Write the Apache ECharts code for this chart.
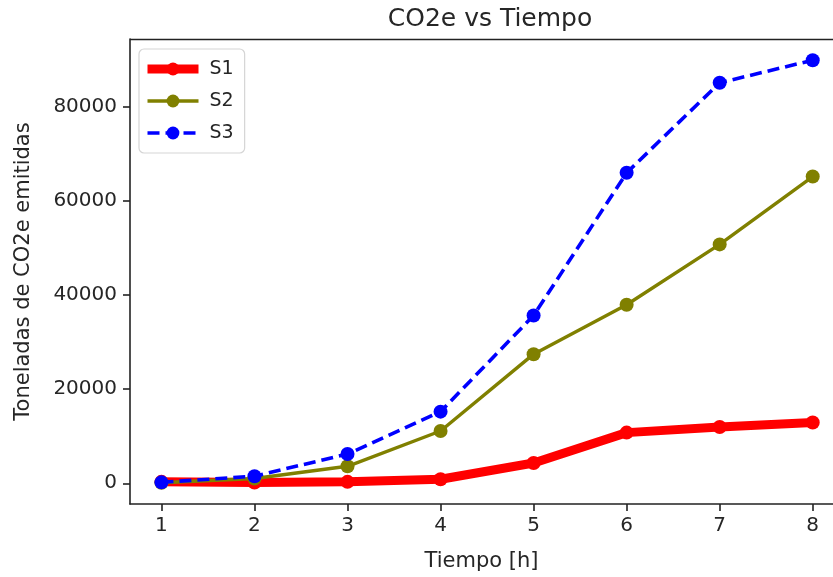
<!DOCTYPE html>
<html>
<head>
<meta charset="utf-8">
<script src="https://cdn.jsdelivr.net/npm/echarts@6/dist/echarts.min.js"></script>
<style>
html,body{margin:0;padding:0;background:#fff;}
#c{width:833px;height:577px;}
</style>
</head>
<body>
<div id="c"></div>
<script>
const hours = [1, 2, 3, 4, 5, 6, 7, 8];
const s1 = [300, 150, 300, 850, 4300, 10750, 11950, 12900];
const s2 = [100, 1000, 3600, 11100, 27400, 37900, 50700, 65100];
const s3 = [200, 1500, 6200, 15200, 35600, 65900, 85000, 89800];
const yTicks = [0, 20000, 40000, 60000, 80000];
const xTicks = [1, 2, 3, 4, 5, 6, 7, 8];

const font = 'DejaVu Sans';
const ink = '#262626';
const chart = echarts.init(document.getElementById('c'), null, {renderer: 'canvas'});

function pairs(vals) { return hours.map((h, i) => [h, vals[i]]); }

chart.setOption({
  animation: false,
  backgroundColor: '#fff',
  textStyle: {fontFamily: font},
  title: {
    text: 'CO2e vs Tiempo',
    left: 485, top: 2, textAlign: 'center',
    textStyle: {fontFamily: font, fontSize: 25, fontWeight: 'normal', color: ink}
  },
  grid: {left: 130, right: 0, top: 39, bottom: 73, containLabel: false},
  legend: {
    orient: 'vertical',
    left: 139, top: 49,
    padding: [10, 11, 10, 4],
    itemWidth: 51, itemHeight: 16,
    itemGap: 12,
    borderColor: '#d5d5d5', borderWidth: 1.2, borderRadius: 5,
    backgroundColor: 'rgba(255,255,255,0.8)',
    textStyle: {fontFamily: font, fontSize: 19, lineHeight: 20, color: ink, padding: [0, 0, 0, 6]},
    data: [
      {name: 'S1', lineStyle: {width: 9}},
      {name: 'S2', lineStyle: {width: 3.4}},
      {name: 'S3', lineStyle: {width: 3.6}}
    ]
  },
  xAxis: {
    type: 'value',
    min: 0.662, max: 8.218,
    name: 'Tiempo [h]',
    nameLocation: 'middle', nameGap: 47,
    nameTextStyle: {fontFamily: font, fontSize: 21, color: ink},
    axisLine: {show: true, onZero: false, lineStyle: {color: '#222', width: 1.6}},
    axisTick: {show: true, length: 7, customValues: xTicks, lineStyle: {color: '#222', width: 1.6}},
    axisLabel: {customValues: xTicks, fontFamily: font, fontSize: 20, color: ink, margin: 12},
    splitLine: {show: false}
  },
  yAxis: {
    type: 'value',
    min: -4400, max: 94300,
    name: 'Toneladas de CO2e emitidas',
    nameLocation: 'middle', nameGap: 96, nameRotate: 90,
    nameTextStyle: {fontFamily: font, fontSize: 21, color: ink},
    axisLine: {show: true, onZero: false, lineStyle: {color: '#222', width: 1.6}},
    axisTick: {show: true, length: 7, customValues: yTicks, lineStyle: {color: '#222', width: 1.6}},
    axisLabel: {customValues: yTicks, fontFamily: font, fontSize: 20, color: ink, margin: 13,
      formatter: v => String(Math.round(v))},
    splitLine: {show: false}
  },
  series: [
    {
      name: 'S1', type: 'line', data: pairs(s1),
      symbol: 'circle', symbolSize: 14,
      itemStyle: {color: '#ff0000'},
      lineStyle: {color: '#ff0000', width: 9},
      z: 3
    },
    {
      name: 'S2', type: 'line', data: pairs(s2),
      symbol: 'circle', symbolSize: 14,
      itemStyle: {color: '#808000'},
      lineStyle: {color: '#808000', width: 3.4},
      z: 4
    },
    {
      name: 'S3', type: 'line', data: pairs(s3),
      symbol: 'circle', symbolSize: 14,
      itemStyle: {color: '#0000ff'},
      lineStyle: {color: '#0000ff', width: 3.6, type: [12, 6]},
      z: 5
    }
  ]
});
chart.setOption({
  graphic: [{
    type: 'line', shape: {x1: 130, y1: 39.5, x2: 833, y2: 39.5},
    style: {stroke: '#222', lineWidth: 1.6}, silent: true
  }]
});
</script>
</body>
</html>
